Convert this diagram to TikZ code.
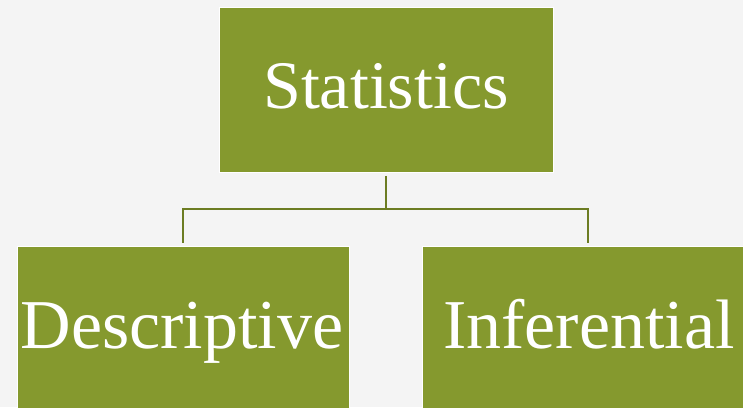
\documentclass[tikz,border=0pt]{standalone}
\usepackage{fontspec}
\setmainfont{Liberation Serif}
\definecolor{olive}{HTML}{85992E}
\definecolor{oliveline}{HTML}{6C7C22}
\definecolor{bgc}{HTML}{F4F4F4}
\begin{document}
\begin{tikzpicture}[x=1pt,y=1pt,
  box/.style={draw=white,line width=1pt,fill=olive,rectangle,inner sep=0pt},
  lbl/.style={anchor=base,text=white,inner sep=0pt},
  conn/.style={draw=oliveline,line width=2pt}]
\useasboundingbox (0,0) rectangle (743,407);
\fill[bgc] (0,0) rectangle (743,407);
\node[box,minimum width=334pt,minimum height=165.5pt] (top) at (386,316.75) {};
\node[box,minimum width=332pt,minimum height=180pt] (left) at (183,70) {};
\node[box,minimum width=332pt,minimum height=180pt] (right) at (588,70) {};
\node[lbl,font=\fontsize{68}{70}\selectfont] (ttop) at (386,298) {Statistics};
\node[lbl,font=\fontsize{70}{72}\selectfont] (tleft) at (182,59) {Descriptive};
\node[lbl,font=\fontsize{70}{72}\selectfont] (tright) at (589,59) {Inferential};
\coordinate (hub) at (386,198);
\draw[conn] ([yshift=-2.5pt]top.south) -- (hub);
\draw[conn] (hub) -| ([yshift=3.5pt]left.north);
\draw[conn] (hub) -| ([yshift=3.5pt]right.north);
\end{tikzpicture}
\end{document}
